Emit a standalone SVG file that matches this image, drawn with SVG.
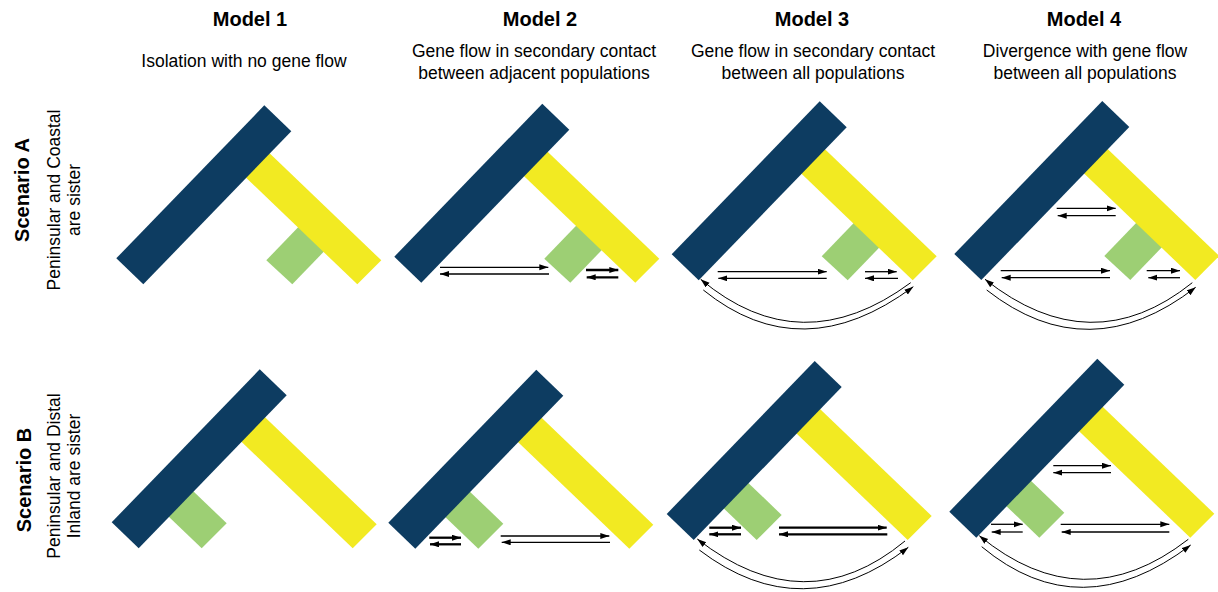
<svg xmlns="http://www.w3.org/2000/svg" xmlns:xlink="http://www.w3.org/1999/xlink" width="1218" height="592" viewBox="0 0 1218 592">
<style>
.h{font-family:"Liberation Sans",Arial,sans-serif;font-size:20px;font-weight:bold;fill:#000;text-anchor:middle}
.s{font-family:"Liberation Sans",Arial,sans-serif;font-size:17.5px;fill:#000;text-anchor:middle}
.navy{fill:#0D3C61}
.yel{fill:#F2EA22}
.grn{fill:#9DCF74}
.a{fill:none;stroke:#000;stroke-width:1.3;marker-end:url(#ah)}
.t{fill:none;stroke:#000;stroke-width:2.3;marker-end:url(#ah)}
.c{fill:none;stroke:#000;stroke-width:1;marker-end:url(#ah)}
</style>
<defs>
<marker id="ah" markerUnits="userSpaceOnUse" markerWidth="10" markerHeight="7" refX="9" refY="3" orient="auto"><path d="M0,0 L9,3 L0,6 z" fill="#000"/></marker>
<polygon id="navyBar" class="navy" points="0,0 148,-153 175,-127 27,26"/>
<polygon id="yellowBar" class="yel" points="265,2 241,26 118.6,-91.3 142.6,-115.3"/>
<polygon id="greenA" class="grn" points="150,2 176,26 217.7,-17.2 191.7,-41.2"/>
<polygon id="greenB" class="grn" points="90,26 115,1 64.6,-47.3 39.6,-22.3"/>
</defs>
<rect width="1218" height="592" fill="#fff"/>
<g id="headers">
<text class="h" x="250" y="26">Model 1</text>
<text class="h" x="540" y="26">Model 2</text>
<text class="h" x="812" y="26">Model 3</text>
<text class="h" x="1084" y="26">Model 4</text>
<text class="s" x="244" y="66.7">Isolation with no gene flow</text>
<text class="s" x="534" y="57">Gene flow in secondary contact</text>
<text class="s" x="534" y="79">between adjacent populations</text>
<text class="s" x="813" y="57">Gene flow in secondary contact</text>
<text class="s" x="813" y="79">between all populations</text>
<text class="s" x="1085" y="57">Divergence with gene flow</text>
<text class="s" x="1085" y="79">between all populations</text>
</g>
<g id="scenarioA-label">
<text class="h" transform="translate(29,190) rotate(-90)">Scenario A</text>
<text class="s" transform="translate(60,200) rotate(-90)">Peninsular and Coastal</text>
<text class="s" transform="translate(80,200) rotate(-90)">are sister</text>
</g>
<g id="scenarioB-label">
<text class="h" transform="translate(31,480) rotate(-90)">Scenario B</text>
<text class="s" transform="translate(60,476) rotate(-90)">Peninsular and Distal</text>
<text class="s" transform="translate(80,476) rotate(-90)">Inland are sister</text>
</g>
<g id="A1" transform="translate(116.3,258.3)"><use xlink:href="#greenA"/><use xlink:href="#yellowBar"/><use xlink:href="#navyBar"/></g>
<g id="A2" transform="translate(394.3,256.7)"><use xlink:href="#greenA"/><use xlink:href="#yellowBar"/><use xlink:href="#navyBar"/></g>
<g id="A3" transform="translate(671.7,254.3)"><use xlink:href="#greenA"/><use xlink:href="#yellowBar"/><use xlink:href="#navyBar"/></g>
<g id="A4" transform="translate(954.3,254)"><use xlink:href="#greenA"/><use xlink:href="#yellowBar"/><use xlink:href="#navyBar"/></g>
<g id="B1" transform="translate(111.7,522.3)"><use xlink:href="#greenB"/><use xlink:href="#yellowBar"/><use xlink:href="#navyBar"/></g>
<g id="B2" transform="translate(388.3,522.7)"><use xlink:href="#greenB"/><use xlink:href="#yellowBar"/><use xlink:href="#navyBar"/></g>
<g id="B3" transform="translate(666.7,514)"><use xlink:href="#greenB"/><use xlink:href="#yellowBar"/><use xlink:href="#navyBar"/></g>
<g id="B4" transform="translate(949.3,511.7)"><use xlink:href="#greenB"/><use xlink:href="#yellowBar"/><use xlink:href="#navyBar"/></g>
<g id="connectors">
<path class="a" d="M440,267.3 H548.3"/>
<path class="a" d="M549,274 H440"/>
<path class="t" d="M586,270 H618.3"/>
<path class="t" d="M618.3,277.3 H586.7"/>
<path class="a" d="M717.7,271.7 H826.7"/>
<path class="a" d="M826.7,278.3 H718.3"/>
<path class="a" d="M865,271.7 H896.7"/>
<path class="a" d="M898,278.3 H865"/>
<path class="c" d="M910.7,282.7 Q800.9,363.6 700.7,279.3"/>
<path class="c" d="M703.3,290 Q801.7,369.6 913.3,286.7"/>
<path class="a" d="M1056.7,208.3 H1115.7"/>
<path class="a" d="M1115.7,215.7 H1057.7"/>
<path class="a" d="M1000.7,270.7 H1110"/>
<path class="a" d="M1110,277.7 H1001.7"/>
<path class="a" d="M1146.7,270.7 H1180"/>
<path class="a" d="M1180,277.7 H1148.3"/>
<path class="c" d="M1192.3,282.7 Q1091.4,363.6 985,279.3"/>
<path class="c" d="M986.7,290 Q1088.8,370 1195.7,287.3"/>
<path class="t" d="M429.3,537.7 H461"/>
<path class="t" d="M461,544.3 H430"/>
<path class="a" d="M500.7,536 H609.3"/>
<path class="a" d="M610,542.3 H501.7"/>
<path class="t" d="M709.3,527.7 H741"/>
<path class="t" d="M741,534.3 H709.3"/>
<path class="t" d="M779,527.7 H886.7"/>
<path class="t" d="M887.3,534.3 H779"/>
<path class="c" d="M905,541 Q805.4,623.4 697.3,539"/>
<path class="c" d="M699.3,550 Q802.8,628.8 908.3,547.3"/>
<path class="a" d="M1053.3,465.7 H1111"/>
<path class="a" d="M1111,472.7 H1053.3"/>
<path class="a" d="M991,524.3 H1022.7"/>
<path class="a" d="M1022.7,532 H991.7"/>
<path class="a" d="M1060.7,524.3 H1169.3"/>
<path class="a" d="M1169.3,532 H1061.7"/>
<path class="c" d="M1188.3,539.3 Q1082.8,621.1 979.3,535.7"/>
<path class="c" d="M981.7,546.7 Q1080.4,628.8 1190.7,545"/>
</g>
</svg>
